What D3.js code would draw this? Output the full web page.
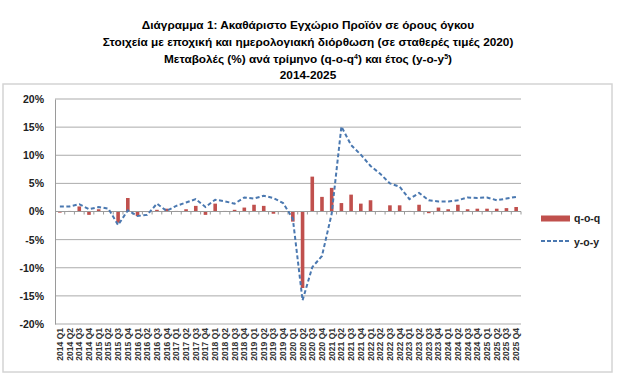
<!DOCTYPE html>
<html lang="el">
<head>
<meta charset="utf-8">
<title>Διάγραμμα 1</title>
<script src="https://cdn.jsdelivr.net/npm/d3@7"></script>
<style>
  body { margin: 0; background: #fff; }
  svg text { font-family: "Liberation Sans", Arial, sans-serif; font-weight: bold; }
</style>
</head>
<body>
<script>
// data
const years = [2014, 2015, 2016, 2017, 2018, 2019, 2020, 2021, 2022, 2023, 2024, 2025]
const quarterNames = ["Q1", "Q2", "Q3", "Q4"]
const periods = years.flatMap(y => quarterNames.map(q => `${y} ${q}`))

const qoq = [
  -0.2, 0.1, 0.9, -0.6,
  0.4, 0.1, -2.0, 2.4,
  -0.8, -0.1, 0.3, 0.5,
  0.1, 0.4, 1.0, -0.6,
  1.4, 0.1, 0.3, 0.7,
  1.2, 1.0, -0.4, -0.1,
  -1.8, -13.6, 6.2, 2.6,
  4.2, 1.5, 3.0, 1.4,
  2.0, 0.1, 1.1, 1.1,
  0.1, 1.2, -0.3, 0.7,
  0.4, 1.2, 0.4, 0.5,
  0.5, 0.5, 0.6, 0.8
]
const yoy = [
  0.9, 0.9, 1.3, 0.4,
  0.8, 0.5, -2.4, 0.2,
  -0.8, -0.6, 1.4, 0.1,
  1.0, 1.6, 2.2, 0.8,
  2.1, 1.8, 1.4, 2.5,
  2.3, 2.8, 2.4, 1.5,
  -1.3, -15.8, -9.9, -7.9,
  -0.4, 15.1, 11.8, 10.1,
  8.1, 6.7, 5.0, 4.4,
  2.2, 3.3, 2.0, 1.8,
  1.8, 2.0, 2.5, 2.4,
  2.5, 2.0, 2.3, 2.6
]
const yTicks = [-20, -15, -10, -5, 0, 5, 10, 15, 20]
const seriesNames = ["q-o-q", "y-o-y"]

const width = 624
const height = 390
const plot = { left: 55, right: 521, top: 99, bottom: 324 }
const barColor = "#c0504d"
const lineColor = "#4a78b0"

const svg = d3.select("body").append("svg")
  .attr("width", width)
  .attr("height", height)

// chart frame
svg.append("rect")
  .attr("x", 3).attr("y", 84)
  .attr("width", 609).attr("height", 288)
  .attr("fill", "none")
  .attr("stroke", "#d4d4d4")
  .attr("stroke-width", 1.5)

// title
const title = svg.append("text")
  .attr("text-anchor", "middle")
  .attr("font-size", 11.8)
  .attr("fill", "#000")
title.append("tspan").attr("x", 308).attr("y", 28.5)
  .text("Διάγραμμα 1: Ακαθάριστο Εγχώριο Προϊόν σε όρους όγκου")
title.append("tspan").attr("x", 308).attr("y", 45.5)
  .text("Στοιχεία με εποχική και ημερολογιακή διόρθωση (σε σταθερές τιμές 2020)")
const l3 = title.append("tspan").attr("x", 308).attr("y", 62.5)
l3.append("tspan").text("Μεταβολές (%) ανά τρίμηνο (q-o-q")
l3.append("tspan").attr("font-size", 7).attr("dy", -4).text("4")
l3.append("tspan").attr("dy", 4).text(") και έτος (y-o-y")
l3.append("tspan").attr("font-size", 7).attr("dy", -4).text("5")
l3.append("tspan").attr("dy", 4).text(")")
title.append("tspan").attr("x", 308).attr("y", 79).text("2014-2025")

// scales
const x = d3.scaleBand()
  .domain(periods)
  .range([plot.left, plot.right])
const y = d3.scaleLinear()
  .domain([-20, 20])
  .range([plot.bottom, plot.top])

// gridlines
svg.append("g")
  .selectAll("line")
  .data(yTicks.filter(d => d !== 0))
  .join("line")
  .attr("x1", plot.left).attr("x2", plot.right)
  .attr("y1", d => y(d)).attr("y2", d => y(d))
  .attr("stroke", "#ababab")
  .attr("stroke-width", 1)

// y axis
const yAxis = svg.append("g")
  .attr("transform", `translate(${plot.left},0)`)
  .call(d3.axisLeft(y).tickValues(yTicks).tickSize(0).tickPadding(11).tickFormat(d => d + "%"))
yAxis.select(".domain").attr("stroke", "#9a9a9a")
yAxis.selectAll("text").attr("font-size", 10.5).attr("fill", "#222")
  .style("font-family", "'Liberation Sans', Arial, sans-serif")

// bars
svg.append("g")
  .selectAll("rect")
  .data(qoq)
  .join("rect")
  .attr("x", (d, i) => x(periods[i]) + x.bandwidth() / 2 - 1.8)
  .attr("width", 3.6)
  .attr("y", d => y(Math.max(0, d)))
  .attr("height", d => Math.abs(y(d) - y(0)))
  .attr("fill", barColor)

// x axis on the zero line, ticks between categories
const xAxisG = svg.append("g")
  .attr("transform", `translate(0,${y(0)})`)
xAxisG.append("line")
  .attr("x1", plot.left).attr("x2", plot.right)
  .attr("stroke", "#9a9a9a")
xAxisG.selectAll(".tk")
  .data(periods)
  .join("line")
  .attr("class", "tk")
  .attr("x1", d => x(d) + x.bandwidth()).attr("x2", d => x(d) + x.bandwidth())
  .attr("y1", 0).attr("y2", 3)
  .attr("stroke", "#9a9a9a")

// category labels at the bottom
svg.append("g")
  .selectAll("text")
  .data(periods)
  .join("text")
  .attr("transform", d => `translate(${x(d) + x.bandwidth() / 2 + 3},${plot.bottom + 4}) rotate(-90)`)
  .attr("text-anchor", "end")
  .attr("font-size", 8.5)
  .attr("fill", "#333")
  .text(d => d)

// y-o-y line
const line = d3.line()
  .x((d, i) => x(periods[i]) + x.bandwidth() / 2)
  .y(d => y(d))
svg.append("path")
  .datum(yoy)
  .attr("d", line)
  .attr("fill", "none")
  .attr("stroke", lineColor)
  .attr("stroke-width", 2)
  .attr("stroke-dasharray", "4,2.5")

// legend
const legend = svg.append("g")
legend.append("rect")
  .attr("x", 541).attr("y", 215.5)
  .attr("width", 29).attr("height", 6)
  .attr("fill", barColor)
legend.append("line")
  .attr("x1", 541).attr("x2", 570)
  .attr("y1", 241).attr("y2", 241)
  .attr("stroke", lineColor)
  .attr("stroke-width", 2)
  .attr("stroke-dasharray", "4,2")
legend.selectAll("text")
  .data(seriesNames)
  .join("text")
  .attr("x", 574)
  .attr("y", (d, i) => 222 + i * 23.5)
  .attr("font-size", 10.5)
  .attr("fill", "#222")
  .text(d => d)
</script>
</body>
</html>
